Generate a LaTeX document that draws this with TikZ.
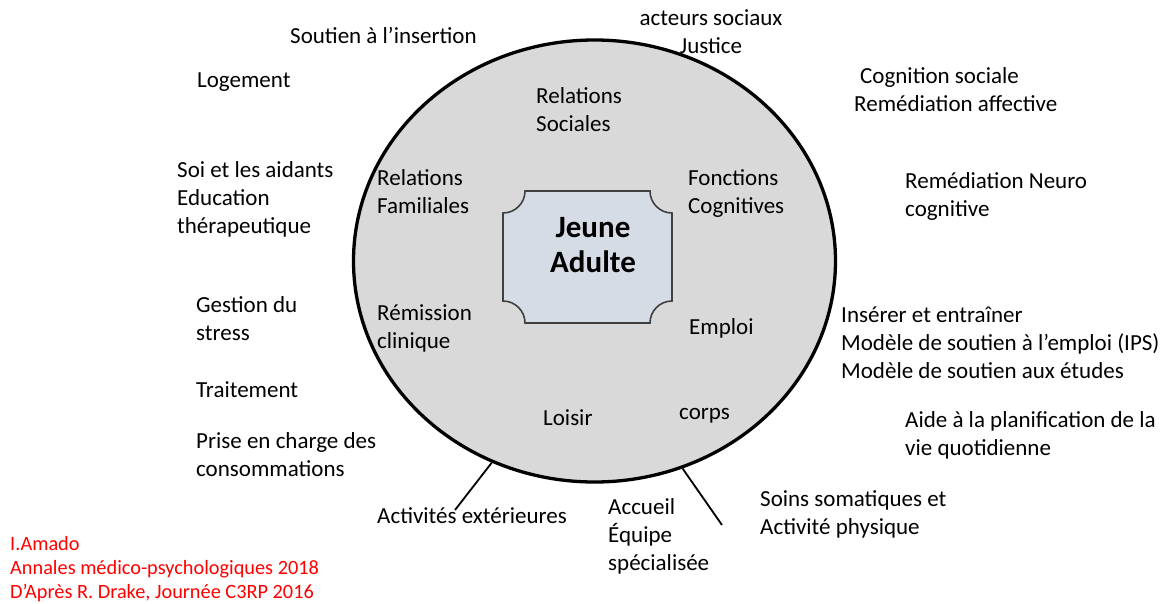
\documentclass[tikz,border=0pt]{standalone}
\usepackage{fontspec}
\setmainfont{Carlito}
\usetikzlibrary{shapes.geometric}
\definecolor{cgray}{HTML}{D9D9D9}
\definecolor{cbox}{HTML}{D6DCE5}
\definecolor{cboxline}{HTML}{404040}
\begin{document}
\begin{tikzpicture}[x=1pt,y=-1pt,
  lbl/.style={anchor=base west, inner sep=0, align=left, font=\fontsize{23}{28}\selectfont},
  lblc/.style={anchor=base, inner sep=0, align=center, font=\fontsize{23}{28}\selectfont},
  reftxt/.style={anchor=base west, inner sep=0, align=left, text=red, font=\fontsize{20.3}{24}\selectfont},
  ring/.style={ellipse, draw=black, line width=3.3pt, fill=cgray, minimum width=482pt, minimum height=442pt, inner sep=0},
  link/.style={draw=black, line width=1.8pt}]
\useasboundingbox (0,0) rectangle (1162,603);
% main ring
\node[ring] (cercle) at (594.5,261) {};
% centre box with concave corners
\def\rr{22}
\filldraw[fill=cbox, draw=cboxline, line width=1.6pt]
  (503+\rr,191) -- (672-\rr,191) arc[start angle=180, end angle=90, radius=\rr]
  -- (672,323-\rr) arc[start angle=270, end angle=180, radius=\rr]
  -- (503+\rr,323) arc[start angle=360, end angle=270, radius=\rr]
  -- (503,191+\rr) arc[start angle=90, end angle=0, radius=\rr] -- cycle;
\node[anchor=base, inner sep=0, align=center, font=\fontsize{31}{35}\selectfont\bfseries] (ja) at (593,272) {Jeune\\Adulte};
% inner labels (anchor = baseline of last line)
\node[lbl] (rs) at (536,131) {Relations\\Sociales};
\node[lbl] (rf) at (377,213) {Relations\\Familiales};
\node[lbl] (fc) at (688,213) {Fonctions\\Cognitives};
\node[lbl] (rc) at (377,348) {Rémission\\clinique};
\node[lbl] (emp) at (689,334) {Emploi};
\node[lbl] (loi) at (543,425) {Loisir};
\node[lbl] (corps) at (679,419) {corps};
% outer labels
\node[lbl] (ins) at (290,43) {Soutien à l’insertion};
\node[lblc] (act) at (711,53) {acteurs sociaux\\Justice};
\node[lbl] (log) at (197,87) {Logement};
\node[lbl] (cog) at (854,111) {\hspace*{6pt}Cognition sociale\\Remédiation affective};
\node[lbl] (soi) at (177,233) {Soi et les aidants\\Education\\thérapeutique};
\node[lbl] (rn) at (905,216) {Remédiation Neuro\\cognitive};
\node[lbl] (gs) at (196,340) {Gestion du\\stress};
\node[lbl] (ie) at (841,378) {Insérer et entraîner\\Modèle de soutien à l’emploi (IPS)\\Modèle de soutien aux études};
\node[lbl] (tr) at (196,397) {Traitement};
\node[lbl] (aide) at (905,455) {Aide à la planification de la\\vie quotidienne};
\node[lbl] (pec) at (196,476) {Prise en charge des\\consommations};
\node[lbl] (ae) at (377,523) {Activités extérieures};
\node[lbl] (acc) at (608,570) {Accueil\\Équipe\\spécialisée};
\node[lbl] (soins) at (760,534) {Soins somatiques et\\Activité physique};
% reference
\node[reftxt] (ref) at (10,598) {I.Amado\\Annales médico-psychologiques 2018\\D’Après R. Drake, Journée C3RP 2016};
% connectors
\coordinate (e1) at (455,510);
\coordinate (e2) at (722,525);
\draw[link] (cercle.243.1) -- (e1);
\draw[link] (cercle.293.6) -- (e2);
\end{tikzpicture}
\end{document}
